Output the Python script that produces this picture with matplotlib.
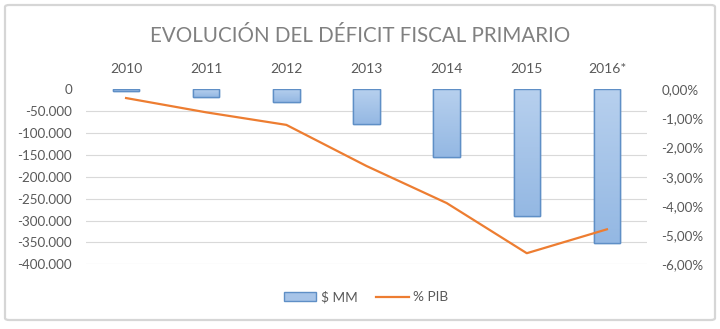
import matplotlib
matplotlib.use("Agg")
import matplotlib.pyplot as plt
import numpy as np
from matplotlib.patches import FancyBboxPatch, Rectangle
from matplotlib.lines import Line2D
from matplotlib.ticker import FuncFormatter
from matplotlib.colors import LinearSegmentedColormap

years = ["2010", "2011", "2012", "2013", "2014", "2015", "2016*"]
mm_values = [-4500, -17000, -30000, -79000, -155000, -290000, -351000]
pib_pct = [-0.30, -0.79, -1.22, -2.63, -3.90, -5.62, -4.80]

title = "EVOLUCIÓN DEL DÉFICIT FISCAL PRIMARIO"
FONT = ["Lato", "DejaVu Sans"]
TXT = "#595959"
plt.rcParams["font.family"] = FONT

fig = plt.figure(figsize=(7.2, 3.29), dpi=100)
fig.patch.set_facecolor("white")

# chart border
border = FancyBboxPatch((5 / 720, 9 / 329), 710 / 720, 315 / 329,
                        boxstyle="round,pad=0,rounding_size=0.006",
                        transform=fig.transFigure, fill=False,
                        edgecolor="#d6d6d6", linewidth=1.6, zorder=0)
fig.patches.append(border)

ax = fig.add_axes([86 / 720, 64.7 / 329, 561 / 720, 175 / 329])
x = np.arange(len(years))
ax.set_xlim(-0.5, len(years) - 0.5)
ax.set_ylim(-400000, 0)
ax.set_yticks(np.arange(-400000, 1, 50000))
for yv in np.arange(-400000, 0, 50000):
    ax.axhline(yv, color="#d9d9d9", linewidth=0.8, zorder=0)

bw = 0.33
bars = ax.bar(x, mm_values, width=bw, color="#a7c4e8", edgecolor="#5f8fc6",
              linewidth=1.0, zorder=2)
grad = np.linspace(0, 1, 100).reshape(-1, 1)
cmap = LinearSegmentedColormap.from_list("g", ["#b7d0ee", "#94b8e3"])
for b in bars:
    x0, w = b.get_x(), b.get_width()
    y0, h = b.get_y(), b.get_height()
    im = ax.imshow(grad, extent=[x0, x0 + w, y0 + h, y0], aspect="auto",
                   cmap=cmap, zorder=2.1, origin="upper")
    im.set_clip_path(b)
    edge = Rectangle((x0, y0), w, h, fill=False, edgecolor="#5f8fc6",
                     linewidth=1.0, zorder=2.2)
    ax.add_patch(edge)

ax.set_xticks(x)
ax.set_xticklabels(years)
ax.xaxis.tick_top()
ax.tick_params(axis="x", length=0, pad=10, labelsize=10, labelcolor=TXT)
ax.tick_params(axis="y", length=0, pad=10, labelsize=9.6, labelcolor=TXT)
ax.yaxis.set_major_formatter(FuncFormatter(
    lambda v, p: "0" if v == 0 else f"{v:,.0f}".replace(",", ".")))
for s in ax.spines.values():
    s.set_visible(False)
ax.set_facecolor("none")

ax2 = ax.twinx()
ax2.set_ylim(-6, 0)
ax2.set_yticks(np.arange(-6, 0.1, 1))
ax2.yaxis.set_major_formatter(FuncFormatter(
    lambda v, p: f"{v:.2f}%".replace(".", ",") if v != 0 else "0,00%"))
ax2.tick_params(axis="y", length=0, pad=10.5, labelsize=9.6, labelcolor=TXT)
for s in ax2.spines.values():
    s.set_visible(False)
ax2.plot(x, pib_pct, color="#ed7d31", linewidth=1.6, zorder=3)

fig.text(0.5, 1 - 35.5 / 329, title, ha="center", va="center",
         fontsize=14.8, color="#808080")

# legend
handles = [Rectangle((0, 0), 1, 1, facecolor="#a7c4e8", edgecolor="#5f8fc6"),
           Line2D([0], [0], color="#ed7d31", linewidth=1.6)]
fig.legend(handles, ["$ MM", "% PIB"], loc="center",
           bbox_to_anchor=(366 / 720, 1 - 297 / 329), ncol=2, frameon=False,
           fontsize=9.8, labelcolor=TXT, handlelength=2.4, handleheight=0.6,
           columnspacing=1.4, handletextpad=0.3)

fig.savefig("out.png", dpi=100, facecolor="white")
